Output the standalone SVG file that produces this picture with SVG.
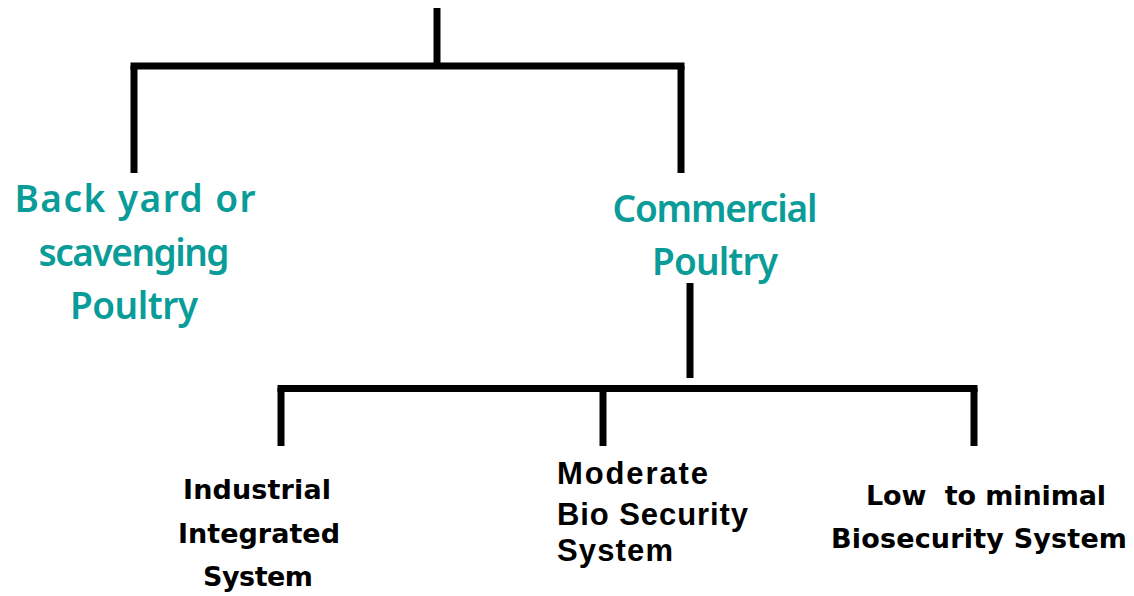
<svg xmlns="http://www.w3.org/2000/svg" width="1134" height="596" viewBox="0 0 1134 596">
<style>
.ln{stroke:#000;stroke-width:7;fill:none;stroke-linecap:butt}
.teal{font-family:"Noto Sans","DejaVu Sans",sans-serif;font-weight:600;font-size:37px;fill:#0a9c99;text-anchor:middle}
.blk{font-family:"DejaVu Sans",sans-serif;font-weight:bold;font-size:27px;fill:#000;text-anchor:middle;white-space:pre}
.arl{font-family:"Liberation Sans",Arial,sans-serif;font-weight:bold;font-size:31px;fill:#000}
</style>
<rect width="1134" height="596" fill="#fff"/>
<g id="connectors">
<path class="ln" d="M437 8V66"/>
<path class="ln" d="M130.5 66H684.5"/>
<path class="ln" d="M134 66V173"/>
<path class="ln" d="M681 66V173"/>
<path class="ln" d="M690 283V378"/>
<path class="ln" d="M277.5 388.5H977.5"/>
<path class="ln" d="M281 388V446"/>
<path class="ln" d="M603 388V446"/>
<path class="ln" d="M974 388V446"/>
</g>
<g id="backyard">
<text class="teal" x="135" y="212" textLength="241" lengthAdjust="spacing">Back yard or</text>
<text class="teal" x="134" y="266" textLength="191" lengthAdjust="spacing">scavenging</text>
<text class="teal" x="134" y="319" textLength="128" lengthAdjust="spacing">Poultry</text>
</g>
<g id="commercial">
<text class="teal" x="715" y="222" textLength="205" lengthAdjust="spacing">Commercial</text>
<text class="teal" x="715" y="275" textLength="126" lengthAdjust="spacing">Poultry</text>
</g>
<g id="industrial">
<text class="blk" x="257" y="499" textLength="148" lengthAdjust="spacing">Industrial</text>
<text class="blk" x="259" y="543" textLength="162" lengthAdjust="spacing">Integrated</text>
<text class="blk" x="258" y="586" textLength="110" lengthAdjust="spacing">System</text>
</g>
<g id="moderate">
<text class="arl" x="557" y="484" textLength="151" lengthAdjust="spacing">Moderate</text>
<text class="arl" x="557" y="525" textLength="191" lengthAdjust="spacing">Bio Security</text>
<text class="arl" x="557" y="561" textLength="116" lengthAdjust="spacing">System</text>
</g>
<g id="low">
<text class="blk" x="986" y="505" textLength="240" lengthAdjust="spacing">Low  to minimal</text>
<text class="blk" x="979" y="548" textLength="296" lengthAdjust="spacing">Biosecurity System</text>
</g>
</svg>
